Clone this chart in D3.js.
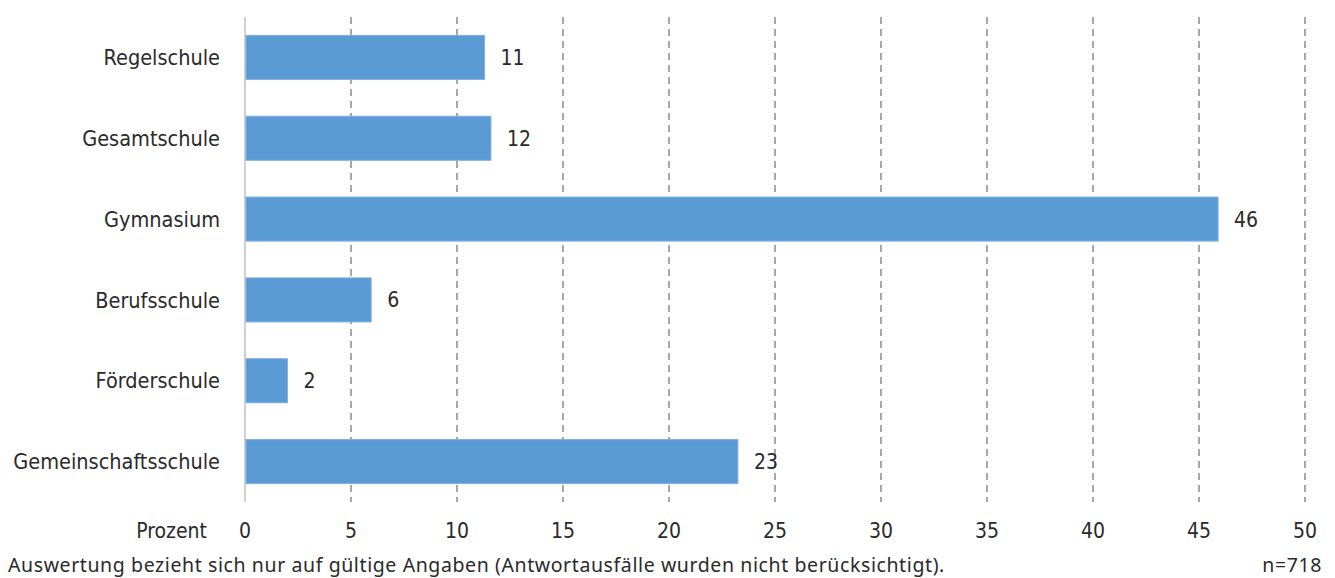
<!DOCTYPE html>
<html>
<head>
<meta charset="utf-8">
<script src="https://cdn.jsdelivr.net/npm/d3@7"></script>
<style>
    body { margin: 0; background: #fff; }
    text { font-family: "DejaVu Sans Condensed", "Liberation Sans Narrow", sans-serif; fill: #2a2a2a; }
    .note { font-family: "Noto Sans", sans-serif; letter-spacing: 0.6px; }
</style>
</head>
<body>
<div id="chart"></div>
<script>
const categories = ['Regelschule', 'Gesamtschule', 'Gymnasium', 'Berufsschule', 'Förderschule', 'Gemeinschaftsschule'];
const values = [11.3, 11.6, 45.9, 5.95, 2.0, 23.25];
const valueLabels = ['11', '12', '46', '6', '2', '23'];
const xTicks = [0, 5, 10, 15, 20, 25, 30, 35, 40, 45, 50];

const width = 1335, height = 578;
const margin = { top: 17, right: 30, bottom: 76, left: 245 };

const svg = d3.select('#chart').append('svg')
    .attr('width', width)
    .attr('height', height);

const xScale = d3.scaleLinear()
    .domain([0, 50])
    .range([margin.left, 1305]);

const yScale = d3.scaleBand()
    .domain(categories)
    .range([margin.top, height - margin.bottom])
    .paddingInner(0.455)
    .paddingOuter(0.2275);

// dashed grid
svg.selectAll('.grid')
    .data(xTicks.slice(1))
    .enter()
    .append('line')
    .attr('x1', d => xScale(d))
    .attr('x2', d => xScale(d))
    .attr('y1', margin.top)
    .attr('y2', height - margin.bottom)
    .attr('stroke', '#8a8a8a')
    .attr('stroke-width', 1.5)
    .attr('stroke-dasharray', '7,5');

// zero line
svg.append('line')
    .attr('x1', xScale(0)).attr('x2', xScale(0))
    .attr('y1', margin.top).attr('y2', height - margin.bottom)
    .attr('stroke', '#d0d0d0')
    .attr('stroke-width', 2);

svg.selectAll('.bar')
    .data(values)
    .enter()
    .append('rect')
    .attr('x', xScale(0) + 1)
    .attr('y', (d, i) => yScale(categories[i]))
    .attr('width', d => xScale(d) - xScale(0) - 1)
    .attr('height', yScale.bandwidth())
    .attr('fill', '#5b9bd5')
    .attr('stroke', '#7fb0e0')
    .attr('stroke-width', 1);

svg.selectAll('.data-label')
    .data(values)
    .enter()
    .append('text')
    .text((d, i) => valueLabels[i])
    .attr('x', d => xScale(d) + 16)
    .attr('y', (d, i) => yScale(categories[i]) + yScale.bandwidth() / 2)
    .attr('dy', '0.36em')
    .attr('font-size', 21);

svg.selectAll('.cat-label')
    .data(categories)
    .enter()
    .append('text')
    .text(d => d)
    .attr('x', 220)
    .attr('y', d => yScale(d) + yScale.bandwidth() / 2)
    .attr('dy', '0.36em')
    .attr('text-anchor', 'end')
    .attr('font-size', 21.5);

// x axis tick labels
svg.selectAll('.tick-label')
    .data(xTicks)
    .enter()
    .append('text')
    .text(d => d)
    .attr('x', d => xScale(d))
    .attr('y', 538)
    .attr('text-anchor', 'middle')
    .attr('font-size', 21);

svg.append('text')
    .text('Prozent')
    .attr('x', 207)
    .attr('y', 538)
    .attr('text-anchor', 'end')
    .attr('font-size', 21);

svg.append('text')
    .attr('class', 'note')
    .text('Auswertung bezieht sich nur auf gültige Angaben (Antwortausfälle wurden nicht berücksichtigt).')
    .attr('x', 8)
    .attr('y', 572)
    .attr('font-size', 19.5);

svg.append('text')
    .attr('class', 'note')
    .text('n=718')
    .attr('x', 1322)
    .attr('y', 572)
    .attr('text-anchor', 'end')
    .attr('font-size', 19.5);
</script>
</body>
</html>
